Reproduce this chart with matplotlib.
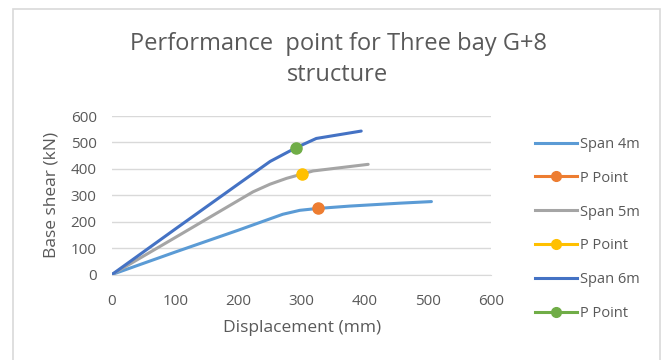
import matplotlib
matplotlib.use("Agg")
import matplotlib.pyplot as plt
from matplotlib.patches import Rectangle
from matplotlib.lines import Line2D

# Pushover curves (displacement mm, base shear kN)
span4_disp = [0, 100, 200, 235, 270, 297, 325, 376, 455, 505]
span4_shear = [0, 85, 168, 198, 228, 243, 250, 259, 270, 276]
span5_disp = [0, 100, 223, 250, 276, 300, 318, 405]
span5_shear = [0, 140, 313, 342, 364, 380, 392, 417]
span6_disp = [0, 100, 200, 250, 291, 323, 394]
span6_shear = [0, 172, 343, 428, 480, 515, 543]

# Performance points
pp4 = (325, 250)
pp5 = (300, 380)
pp6 = (291, 480)

x_ticks = [0, 100, 200, 300, 400, 500, 600]
y_ticks = [0, 100, 200, 300, 400, 500, 600]

c4, c5, c6 = "#5B9BD5", "#A5A5A5", "#4472C4"
p4c, p5c, p6c = "#ED7D31", "#FFC000", "#70AD47"
txt = "#595959"
grid = "#D9D9D9"

plt.rcParams["font.family"] = ["Open Sans", "DejaVu Sans"]

fig = plt.figure(figsize=(6.66, 3.6), dpi=100)
W, H = 666, 360

# Chart border
fig.patches.append(Rectangle((13 / W, -0.1), (660 - 13) / W, 1.1 - 9 / H,
                             transform=fig.transFigure, fill=False,
                             edgecolor=grid, linewidth=1.2))

ax = fig.add_axes([112 / W, 1 - 274.5 / H, (491.5 - 112) / W, (274.5 - 116) / H])

ax.plot(span4_disp, span4_shear, color=c4, lw=2.2, solid_capstyle="round")
ax.plot(span5_disp, span5_shear, color=c5, lw=2.2, solid_capstyle="round")
ax.plot(span6_disp, span6_shear, color=c6, lw=2.2, solid_capstyle="round")
ax.plot(*pp4, "o", color=p4c, ms=8, zorder=5)
ax.plot(*pp5, "o", color=p5c, ms=8, zorder=5)
ax.plot(*pp6, "o", color=p6c, ms=8, zorder=5)

ax.set_xlim(0, 600)
ax.set_ylim(0, 600)
ax.set_xticks(x_ticks)
ax.set_yticks(y_ticks)
ax.grid(axis="y", color=grid, lw=1)
ax.set_axisbelow(True)
for s in ("top", "right", "left"):
    ax.spines[s].set_visible(False)
ax.spines["bottom"].set_color(grid)
ax.tick_params(axis="x", length=0, colors=txt, labelsize=11, pad=14)
ax.tick_params(axis="y", length=0, colors=txt, labelsize=11, pad=11)
ax.set_xlabel("Displacement (mm)", color=txt, fontsize=12.5, labelpad=8)
ax.set_ylabel("Base shear (kN)", color=txt, fontsize=12.5, labelpad=8)

fig.text(338 / W, 1 - 44 / H, "Performance  point for Three bay G+8",
         ha="center", va="center", color=txt, fontsize=17)
fig.text(338 / W, 1 - 75 / H, "structure",
         ha="center", va="center", color=txt, fontsize=17)

handles = [
    Line2D([], [], color=c4, lw=2.2),
    Line2D([], [], color=p4c, lw=2.2, marker="o", ms=7),
    Line2D([], [], color=c5, lw=2.2),
    Line2D([], [], color=p5c, lw=2.2, marker="o", ms=7),
    Line2D([], [], color=c6, lw=2.2),
    Line2D([], [], color=p6c, lw=2.2, marker="o", ms=7),
]
labels = ["Span 4m", "P Point", "Span 5m", "P Point", "Span 6m", "P Point"]
leg = fig.legend(handles, labels, loc="center left",
                 bbox_to_anchor=(522 / W, 1 - 229 / H), frameon=False,
                 fontsize=10.5, labelcolor=txt, handlelength=2.9,
                 handletextpad=0.15, labelspacing=1.3)

fig.savefig("out.png", dpi=100)
